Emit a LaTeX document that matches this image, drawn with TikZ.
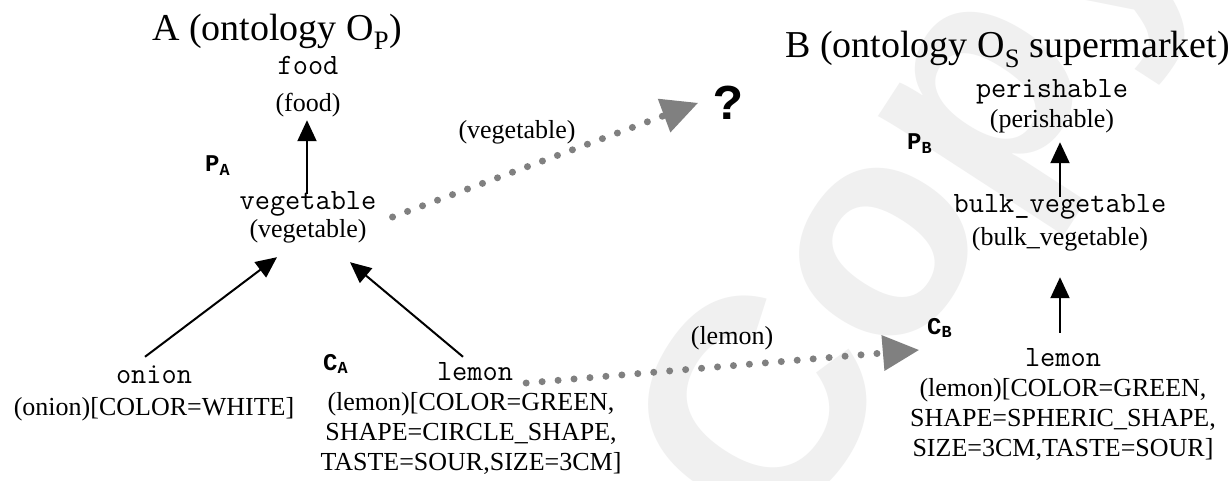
\documentclass[tikz,border=0pt]{standalone}
\usepackage{fontspec}
\setmainfont{Liberation Serif}
\newfontfamily\tagfont{Liberation Mono}
\newfontfamily\markfont{Liberation Sans}
\usetikzlibrary{arrows.meta}

\begin{document}
\begin{tikzpicture}[x=1pt,y=-1pt,
  serif/.style={font=\fontsize{26}{30}\selectfont, inner sep=0pt, anchor=base},
  lbl/.style={serif, text height=18pt, text depth=6pt},
  block/.style={serif, align=center},
  mono/.style={font=\ttfamily\fontsize{29.5}{30}\selectfont, inner sep=0pt, anchor=base, text height=16pt, text depth=0pt},
  tag/.style={font=\tagfont\bfseries\fontsize{24}{28}\selectfont, inner sep=0pt, anchor=base west},
  heading/.style={font=\fontsize{38}{44}\selectfont, inner sep=0pt, anchor=base west},
  isa/.style={draw=black, line width=2pt, -{Triangle[length=21pt,width=19pt]}},
  maps/.style={draw=black!50, line width=7pt, line cap=round, dash pattern=on 0pt off 16pt,
    -{Triangle[length=36pt,width=36pt,line width=0pt]}},
]
\useasboundingbox (0,0) rectangle (1231,481);
\fill[white] (0,0) rectangle (1231,481);

% faint watermark
\begin{scope}
  \clip (0,0) rectangle (1231,481);
  \node[rotate=57, text=black!6, inner sep=0pt,
        font=\markfont\bfseries\fontsize{300}{300}\selectfont] (wm) at (925,200) {Copy};
\end{scope}

% ontology A
\node[heading] (ta) at (152,41) {A (ontology O\textsubscript{P})};
\node[mono] (foodm) at (308,75) {food};
\node[lbl]  (foodl) at (308,112) {(food)};
\node[tag]  (pa) at (205,172) {P\textsubscript{A}};
\node[mono] (vegm) at (308,210) {vegetable};
\node[lbl]  (vegl) at (308,237) {(vegetable)};
\node[mono] (onionm) at (154,383) {onion};
\node[lbl]  (onionl) at (154,415) {(onion)[COLOR=WHITE]};
\node[tag]  (ca) at (323,370) {C\textsubscript{A}};
\node[mono] (lemam) at (475,380) {lemon};
% anchored on the baseline of the last line
\node[block] (lemal) at (471,470) {(lemon)[COLOR=GREEN,\\SHAPE=CIRCLE\_SHAPE,\\TASTE=SOUR,SIZE=3CM]};

% mapping labels
\node[lbl] (mapveg) at (517,139) {(vegetable)};
\node[font=\tagfont\bfseries\fontsize{50}{50}\selectfont, inner sep=0pt, anchor=base,
      text height=32pt, text depth=0pt] (q) at (728,120) {?};
\node[lbl] (maplem) at (732,344) {(lemon)};

% ontology B
\node[heading] (tb) at (785,58) {B (ontology O\textsubscript{S} supermarket)};
\node[mono] (perm) at (1052,98) {perishable};
\node[lbl]  (perl) at (1052,128) {(perishable)};
\node[tag]  (pb) at (907,150) {P\textsubscript{B}};
\node[mono] (bulkm) at (1060,213) {bulk\_vegetable};
\node[lbl]  (bulkl) at (1060,245) {(bulk\_vegetable)};
\node[tag]  (cb) at (927,334) {C\textsubscript{B}};
\node[mono] (lembm) at (1063,366) {lemon};
% anchored on the baseline of the last line
\node[block] (lembl) at (1063,456) {(lemon)[COLOR=GREEN,\\SHAPE=SPHERIC\_SHAPE,\\SIZE=3CM,TASTE=SOUR]};

% is-a links
\draw[isa] ([xshift=-1pt]vegm.north) -- ([xshift=-1pt,yshift=-2pt]vegm.north |- foodl.south);
\draw[isa] ([shift={(-9pt,10pt)}]onionm.north) -- ([shift={(-31pt,-14pt)}]vegl.south);
\draw[isa] ([shift={(-12pt,7pt)}]lemam.north) -- ([shift={(42pt,-19pt)}]vegl.south);
\draw[isa] (bulkm.north) -- ([yshift=-8pt]bulkm.north |- perl.south);
\draw[isa] ([xshift=-3pt,yshift=17pt]lembm.north) -- ([xshift=-3pt,yshift=-26pt]lembm.north |- bulkl.south);

% mappings between ontologies
\draw[maps] ([shift={(16pt,-15pt)}]vegm.east) -- ([shift={(-15pt,1pt)}]q.west);
\draw[maps] ([shift={(13pt,-11pt)}]lemam.east) -- ([shift={(-106pt,8pt)}]lembm.west);
\end{tikzpicture}
\end{document}
